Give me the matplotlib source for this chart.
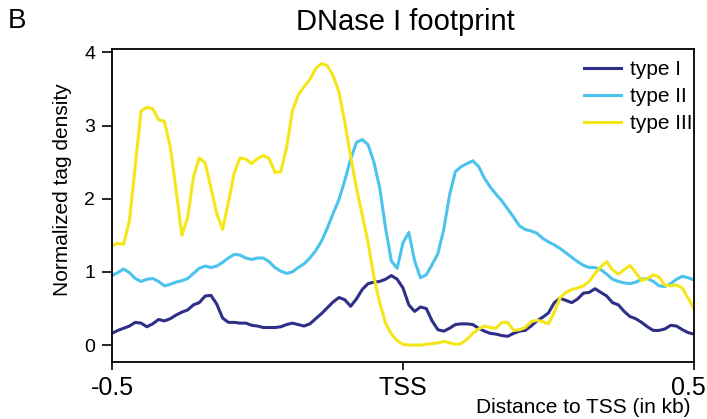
import numpy as np
import matplotlib.pyplot as plt
from matplotlib.transforms import ScaledTranslation

plt.rcParams['font.family'] = ['Liberation Sans', 'DejaVu Sans']

# distance to TSS in kb, 10 bp bins
distance = np.round(np.arange(-0.5, 0.5001, 0.01), 2)

type_1 = [0.16, 0.20, 0.23, 0.26, 0.31, 0.30, 0.25, 0.29, 0.35, 0.33,
          0.36, 0.41, 0.45, 0.48, 0.55, 0.58, 0.67, 0.68, 0.56, 0.37,
          0.31, 0.31, 0.30, 0.30, 0.27, 0.26, 0.24, 0.24, 0.24, 0.25,
          0.28, 0.30, 0.28, 0.26, 0.29, 0.36, 0.43, 0.51, 0.59, 0.65,
          0.62, 0.53, 0.63, 0.76, 0.84, 0.86, 0.87, 0.90, 0.95, 0.90,
          0.78, 0.55, 0.46, 0.52, 0.50, 0.33, 0.21, 0.19, 0.23, 0.28,
          0.29, 0.29, 0.28, 0.23, 0.19, 0.16, 0.15, 0.13, 0.12, 0.16,
          0.19, 0.20, 0.26, 0.33, 0.38, 0.44, 0.58, 0.64, 0.61, 0.58,
          0.63, 0.71, 0.72, 0.77, 0.72, 0.67, 0.58, 0.55, 0.46, 0.39,
          0.36, 0.31, 0.25, 0.20, 0.20, 0.22, 0.27, 0.26, 0.21, 0.17,
          0.15]

type_2 = [0.95, 0.99, 1.04, 0.99, 0.91, 0.87, 0.90, 0.91, 0.87, 0.81,
          0.83, 0.86, 0.88, 0.91, 0.98, 1.05, 1.08, 1.06, 1.08, 1.13,
          1.19, 1.24, 1.23, 1.19, 1.17, 1.19, 1.19, 1.14, 1.06, 1.01,
          0.98, 1.00, 1.06, 1.11, 1.19, 1.29, 1.42, 1.60, 1.80, 1.99,
          2.25, 2.54, 2.77, 2.81, 2.74, 2.50, 2.15, 1.60, 1.15, 1.05,
          1.40, 1.54, 1.15, 0.92, 0.96, 1.10, 1.25, 1.58, 2.05, 2.37,
          2.44, 2.48, 2.52, 2.44, 2.28, 2.16, 2.06, 1.97, 1.86, 1.75,
          1.63, 1.58, 1.56, 1.53, 1.46, 1.41, 1.37, 1.32, 1.26, 1.20,
          1.14, 1.09, 1.06, 1.06, 1.03, 0.97, 0.90, 0.87, 0.85, 0.84,
          0.86, 0.90, 0.91, 0.87, 0.81, 0.80, 0.84, 0.90, 0.94, 0.92,
          0.89]

type_3 = [1.36, 1.39, 1.38, 1.70, 2.45, 3.20, 3.25, 3.23, 3.08, 3.06,
          2.72, 2.13, 1.50, 1.74, 2.30, 2.56, 2.49, 2.15, 1.80, 1.58,
          1.95, 2.35, 2.56, 2.54, 2.48, 2.55, 2.59, 2.55, 2.36, 2.37,
          2.70, 3.20, 3.42, 3.53, 3.63, 3.78, 3.85, 3.82, 3.68, 3.46,
          3.05, 2.58, 2.15, 1.78, 1.40, 0.93, 0.58, 0.30, 0.15, 0.06,
          0.01, 0.00, 0.00, 0.00, 0.01, 0.02, 0.03, 0.05, 0.03, 0.01,
          0.02, 0.08, 0.16, 0.22, 0.26, 0.24, 0.23, 0.31, 0.31, 0.20,
          0.21, 0.24, 0.32, 0.34, 0.32, 0.29, 0.45, 0.65, 0.72, 0.76,
          0.78, 0.81, 0.87, 0.98, 1.07, 1.14, 1.03, 0.97, 1.03, 1.09,
          0.99, 0.88, 0.91, 0.96, 0.93, 0.82, 0.81, 0.82, 0.78, 0.64,
          0.50]

labels = ['type I', 'type II', 'type III']
colors = ['#2e2f86', '#4cc3ec', '#f5e61a']

fig = plt.figure(figsize=(7.07, 4.19), dpi=100)
ax = fig.add_axes([0.1584, 0.1363, 0.8232, 0.7463])

for ys, lab, col in zip([type_1, type_2, type_3], labels, colors):
    ax.plot(distance, ys, color=col, lw=2.2, label=lab)

ax.set_xlim(-0.5, 0.5)
ax.set_ylim(-0.23, 4.045)
ax.set_xticks([-0.5, 0, 0.5])
ax.set_xticklabels(['-0.5', 'TSS', '0.5'], fontsize=18)
ax.set_yticks([0, 1, 2, 3, 4])
ax.tick_params(axis='y', labelsize=14, length=7, width=1.2, pad=5)
ax.tick_params(axis='x', length=6, width=1.2, pad=4)
for sp in ax.spines.values():
    sp.set_linewidth(1.3)

# pull the last x label in so it stays on the canvas
last = ax.get_xticklabels()[-1]
last.set_transform(last.get_transform() + ScaledTranslation(-0.055, 0, fig.dpi_scale_trans))

fig.text(0.0877, 0.5465, 'Normalized tag density', fontsize=15,
         rotation=90, ha='center', va='center')
fig.text(0.976, 0.004, 'Distance to TSS (in kb)', fontsize=15,
         ha='right', va='bottom')
fig.text(0.573, 0.928, 'DNase I footprint', fontsize=21, ha='center', va='baseline')
fig.text(0.011, 0.95, 'B', fontsize=20, ha='left', va='center')

ax.legend(loc='upper right', frameon=False, fontsize=15,
          handlelength=1.8, handletextpad=0.4, labelspacing=0.38,
          borderpad=0, borderaxespad=0, bbox_to_anchor=(0.997, 0.965))

fig.savefig('out.png', dpi=100)
